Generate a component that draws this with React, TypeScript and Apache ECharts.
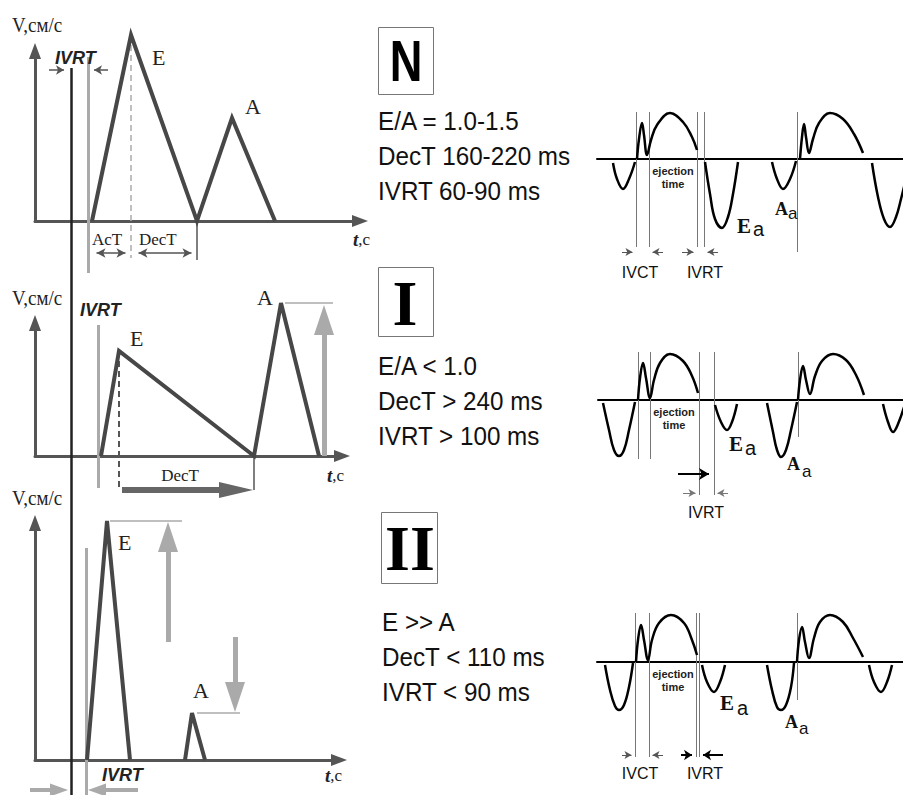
import React, { useEffect, useRef } from "react";
import * as echarts from "echarts";

const SERIF = "'Liberation Serif', 'DejaVu Serif', serif";
const SANS = "'Liberation Sans', Arial, sans-serif";

// ---------- Left column: transmitral flow (t, v), relative to each panel origin ----------
const normalWave = [[57, 0], [96, 186], [162, 0], [197, 103], [240, 0]];
const impairedWave = [[66, 0], [84, 105], [219, 0], [246, 153], [284, 0]];
const restrictiveEWave = [[52, 0], [72, 239], [95, 0]];
const restrictiveAWave = [[150, 0], [157, 47], [170, 0]];

// ---------- Right column: tissue Doppler segments (t, v) ----------
const tdiNormal = [
  [[16, -4], [20, -20], [26, -30], [32, -20], [38, -3]],
  [[40, 0], [42, 20], [45, 36], [47, 24], [50, 4], [54, 19], [60, 34], [73, 46], [86, 37], [95, 22], [100, 9]],
  [[108, -3], [113, -35], [118, -60], [125, -69], [131, -58], [136, -35], [141, -3]],
  [[175, -3], [180, -20], [186, -30], [193, -20], [199, -2]],
  [[203, 0], [205, 22], [207, 35], [209, 22], [212, 6], [216, 20], [222, 36], [233, 46], [246, 40], [257, 25], [266, 6]],
  [[275, -4], [281, -38], [287, -60], [293, -68], [299, -58], [304, -40], [310, -15]],
];
const tdiImpaired = [
  [[5, -3], [11, -30], [16, -50], [21, -56], [26, -50], [31, -30], [37, -2]],
  [[40, 0], [42, 22], [45, 37], [48, 22], [52, 2], [56, 20], [62, 37], [72, 46], [85, 39], [94, 24], [100, 7]],
  [[117, -5], [123, -22], [129, -30], [134, -22], [139, -4]],
  [[169, -3], [175, -32], [179, -50], [183, -57], [188, -50], [193, -30], [199, -2]],
  [[200, 0], [202, 20], [205, 34], [208, 20], [212, 6], [217, 24], [224, 39], [235, 46], [248, 40], [258, 25], [266, 5]],
  [[285, -4], [290, -22], [295, -32], [300, -24], [307, -4]],
];
const tdiRestrictive = [
  [[8, -3], [13, -28], [18, -44], [22, -48], [27, -43], [32, -25], [36, -1]],
  [[39, 0], [41, 22], [44, 37], [47, 22], [51, 2], [55, 22], [62, 39], [74, 47], [87, 39], [95, 22], [100, 7]],
  [[105, -3], [110, -20], [117, -30], [123, -20], [128, -3]],
  [[170, -3], [175, -28], [180, -45], [184, -48], [189, -43], [194, -25], [197, -1]],
  [[200, 0], [202, 22], [205, 35], [208, 20], [212, 4], [217, 24], [223, 40], [233, 47], [246, 40], [256, 24], [266, 5]],
  [[272, -3], [277, -20], [284, -30], [290, -20], [295, -3]],
];

// criteria texts
const normalCriteria = ["E/A = 1.0-1.5", "DecT 160-220 ms", "IVRT 60-90 ms"];
const impairedCriteria = ["E/A < 1.0", "DecT > 240 ms", "IVRT > 100 ms"];
const restrictiveCriteria = ["E >> A", "DecT < 110 ms", "IVRT < 90 ms"];

const leftGrids = [
  { left: 35, top: 51, width: 325, height: 170 },
  { left: 35, top: 323, width: 307, height: 133 },
  { left: 35, top: 523, width: 304, height: 237 },
];
const rightGrids = [
  { left: 597, top: 99, width: 306, height: 160 },
  { left: 598, top: 340, width: 305, height: 160 },
  { left: 597, top: 602, width: 306, height: 160 },
];

type P = number[];
function arr(from: P, tip: P, head: number): P[] {
  const dx = tip[0] - from[0], dy = tip[1] - from[1];
  const L = Math.hypot(dx, dy);
  return [from, [tip[0] - (dx / L) * head / 2, tip[1] - (dy / L) * head / 2]];
}
function arr2(a: P, b: P, head: number): P[] {
  const dx = b[0] - a[0], dy = b[1] - a[1];
  const L = Math.hypot(dx, dy);
  const ux = dx / L, uy = dy / L;
  return [[a[0] + ux * head / 2, a[1] + uy * head / 2], [b[0] - ux * head / 2, b[1] - uy * head / 2]];
}

function segs(grid: number, coords: P[][], color: string, width: number, opts: any = {}) {
  return {
    type: "lines",
    coordinateSystem: "cartesian2d",
    xAxisIndex: grid,
    yAxisIndex: grid,
    clip: false,
    silent: true,
    z: opts.z ?? 3,
    symbol: opts.symbol ?? "none",
    symbolSize: opts.symbolSize ?? 0,
    lineStyle: { color, width, opacity: 1, type: opts.dashed ? [6, 4] : "solid", curveness: 0 },
    data: coords.map((c) => ({ coords: c })),
  };
}

function txt(text: string, x: number, y: number, o: any = {}) {
  return {
    type: "text",
    x,
    y,
    scaleX: o.scaleX ?? 1,
    silent: true,
    z: 10,
    style: {
      text,
      fontFamily: o.family ?? SANS,
      fontSize: o.size ?? 16,
      fontWeight: o.weight ?? "normal",
      fontStyle: o.italic ? "italic" : "normal",
      fill: o.color ?? "#111",
      align: o.align ?? "left",
      verticalAlign: "middle",
      rich: o.rich,
    },
  };
}

function tcLabel(x: number, y: number) {
  return {
    type: "text",
    x,
    y,
    z: 10,
    style: {
      text: "{a|t}{b|,c}",
      verticalAlign: "middle",
      rich: {
        a: { fontFamily: SERIF, fontWeight: "bold", fontStyle: "italic", fontSize: 19, fill: "#222" },
        b: { fontFamily: SERIF, fontSize: 17, fill: "#222" },
      },
    },
  };
}

function buildOption() {
  const grid: any[] = [];
  const xAxis: any[] = [];
  const yAxis: any[] = [];
  const series: any[] = [];

  leftGrids.forEach((g, i) => {
    grid.push({ ...g });
    const axisLine = {
      show: true,
      onZero: true,
      symbol: ["none", "triangle"],
      symbolSize: [12, 16],
      lineStyle: { color: "#555", width: 3 },
    };
    xAxis.push({ gridIndex: i, type: "value", min: 0, max: g.width, axisLine, axisTick: { show: false }, axisLabel: { show: false }, splitLine: { show: false } });
    yAxis.push({ gridIndex: i, type: "value", min: 0, max: g.height, axisLine, axisTick: { show: false }, axisLabel: { show: false }, splitLine: { show: false } });
  });
  rightGrids.forEach((g, j) => {
    const i = j + 3;
    grid.push({ ...g });
    xAxis.push({ gridIndex: i, type: "value", min: 0, max: g.width, axisLine: { show: true, onZero: true, lineStyle: { color: "#000", width: 2 } }, axisTick: { show: false }, axisLabel: { show: false }, splitLine: { show: false } });
    yAxis.push({ gridIndex: i, type: "value", min: -100, max: 60, axisLine: { show: false }, axisTick: { show: false }, axisLabel: { show: false }, splitLine: { show: false } });
  });

  const wave = (grid: number, data: number[][]) => ({
    type: "line",
    xAxisIndex: grid,
    yAxisIndex: grid,
    data,
    symbol: "none",
    clip: false,
    z: 4,
    lineStyle: { color: "#474747", width: 4, join: "miter", cap: "butt" },
  });
  series.push(wave(0, normalWave), wave(1, impairedWave), wave(2, restrictiveEWave), wave(2, restrictiveAWave));

  const tdi = (grid: number, data: number[][]) => ({
    type: "line",
    xAxisIndex: grid,
    yAxisIndex: grid,
    data,
    symbol: "none",
    smooth: 0.4,
    clip: true,
    z: 4,
    lineStyle: { color: "#000", width: 2.5 },
  });
  tdiNormal.forEach((s) => series.push(tdi(3, s)));
  tdiImpaired.forEach((s) => series.push(tdi(4, s)));
  tdiRestrictive.forEach((s) => series.push(tdi(5, s)));

  const small = { symbol: ["none", "arrow"], symbolSize: [[7, 8], [7, 8]] };
  const smallBoth = { symbol: ["arrow", "arrow"], symbolSize: [[7, 9], [7, 9]] };

  // --- Left panel 1 annotations
  series.push(segs(0, [[[36, 153], [36, -574]]], "#222", 2.5));
  series.push(segs(0, [[[53, 164], [53, -52]]], "#aaa", 3));
  series.push(segs(0, [[[96, 186], [96, -37]]], "#aaa", 1.5, { dashed: true }));
  series.push(segs(0, [[[162, 0], [162, -39]]], "#555", 1.5));
  series.push(segs(0, [arr([14, 151], [33, 151], 8), arr([73, 151], [55, 151], 8)], "#555", 1.5, small));
  series.push(segs(0, [arr2([57, -32], [95, -32], 9), arr2([99, -32], [161, -32], 9)], "#555", 1.5, smallBoth));

  // --- Left panel 2 annotations
  series.push(segs(1, [[[63, 131], [63, -32]]], "#aaa", 3));
  series.push(segs(1, [[[84, 105], [84, -34]]], "#555", 2, { dashed: true }));
  series.push(segs(1, [[[219, 0], [219, -34]]], "#555", 1.5));
  series.push(segs(1, [arr([87, -34], [218, -34], 34)], "#666", 6, { symbol: ["none", "triangle"], symbolSize: [[16, 34], [16, 34]] }));
  series.push(segs(1, [[[250, 153], [298, 153]]], "#aaa", 1.5));
  series.push(segs(1, [arr([289, 0], [289, 151], 30)], "#aaa", 5, { symbol: ["none", "triangle"], symbolSize: [[20, 30], [20, 30]] }));

  // --- Left panel 3 annotations
  series.push(segs(2, [[[51, 212], [51, -35]]], "#aaa", 3));
  series.push(segs(2, [[[75, 239], [147, 239]], [[162, 47], [205, 47]]], "#aaa", 1.5));
  series.push(segs(2, [arr([133, 118], [133, 238], 30), arr([200, 123], [200, 48], 30)], "#aaa", 5, { symbol: ["none", "triangle"], symbolSize: [[20, 30], [20, 30]] }));
  series.push(segs(2, [arr([-5, -30], [33, -30], 18), arr([103, -30], [53, -30], 18)], "#aaa", 4, { symbol: ["none", "triangle"], symbolSize: [[13, 18], [13, 18]] }));

  // --- Right panels annotations
  const tiny = { symbol: ["none", "arrow"], symbolSize: [[6, 7], [6, 7]] };
  series.push(segs(3, [[[39, 47], [39, -88]], [[52, 47], [52, -88]], [[100, 47], [100, -88]], [[107, 47], [107, -88]], [[200, 47], [200, -93]]], "#777", 1));
  series.push(segs(3, [arr([25, -93], [39, -93], 7), arr([66, -93], [52, -93], 7), arr([85, -93], [100, -93], 7), arr([121, -93], [107, -93], 7)], "#555", 1, tiny));

  series.push(segs(4, [[[40, 48], [40, -59]], [[52, 48], [52, -59]], [[101, 48], [101, -95]], [[116, 48], [116, -95]], [[200, 48], [200, -37]]], "#777", 1));
  series.push(segs(4, [arr([80, -74], [116, -74], 10)], "#000", 2, { symbol: ["none", "arrow"], symbolSize: [[9, 10], [9, 10]] }));
  series.push(segs(4, [arr([85, -93], [101, -93], 7), arr([130, -93], [116, -93], 7)], "#777", 1, tiny));

  series.push(segs(5, [[[38, 49], [38, -95]], [[52, 49], [52, -95]], [[99, 49], [99, -95]], [[102, 49], [102, -95]], [[200, 49], [200, -38]]], "#777", 1));
  series.push(segs(5, [arr([25, -93], [38, -93], 7), arr([66, -93], [52, -93], 7)], "#555", 1, tiny));
  series.push(segs(5, [arr([84, -93], [99, -93], 8), arr([126, -93], [102, -93], 8)], "#000", 2, { symbol: ["none", "arrow"], symbolSize: [[8, 8], [8, 8]] }));

  // --- texts
  const g: any[] = [];
  const vLabel = (y: number) => txt("V,см/с", 12, y, { family: SERIF, size: 20, color: "#222", scaleX: 0.95 });
  const ivrtL = (x: number, y: number) => txt("IVRT", x, y, { size: 18, weight: "bold", italic: true, color: "#222" });
  const serifL = (s: string, x: number, y: number, size = 22) => txt(s, x, y, { family: SERIF, size, color: "#222" });

  g.push(vLabel(25), vLabel(298), vLabel(498));
  g.push(ivrtL(55, 58), ivrtL(80, 310), ivrtL(102, 775));
  g.push(serifL("E", 152, 57), serifL("A", 245, 106));
  g.push(serifL("E", 130, 338), serifL("A", 257, 297));
  g.push(serifL("E", 118, 542), serifL("A", 193, 690));
  g.push(serifL("AcT", 92, 239, 17), serifL("DecT", 139, 239, 17), txt("DecT", 180, 475, { family: SERIF, size: 17, color: "#222", align: "center" }));
  g.push(tcLabel(353, 239), tcLabel(327, 475), tcLabel(325, 775));

  // middle boxes
  g.push({ type: "rect", shape: { x: 378.5, y: 27.5, width: 55, height: 67 }, style: { fill: "#fff", stroke: "#777", lineWidth: 1 }, z: 9 });
  g.push(txt("N", 406, 61, { size: 58, weight: "bold", scaleX: 0.78, align: "center", color: "#000" }));
  g.push({ type: "rect", shape: { x: 378.5, y: 267.5, width: 55, height: 69 }, style: { fill: "#fff", stroke: "#777", lineWidth: 1 }, z: 9 });
  g.push(txt("I", 405, 303, { family: SERIF, size: 64, weight: "bold", align: "center", color: "#000" }));
  g.push({ type: "rect", shape: { x: 381.5, y: 512.5, width: 56, height: 71 }, style: { fill: "#fff", stroke: "#777", lineWidth: 1 }, z: 9 });
  g.push(txt("II", 410, 548, { family: SERIF, size: 64, weight: "bold", align: "center", color: "#000" }));

  const critY = [[121, 156, 191], [366, 401, 436], [622, 657, 692]];
  const critX = [378, 378, 382];
  [normalCriteria, impairedCriteria, restrictiveCriteria].forEach((lines, k) => {
    lines.forEach((s, m) => g.push(txt(s, critX[k], critY[k][m], { size: 25, color: "#111", scaleX: 0.97 })));
  });

  // right texts
  const ej = (x: number, y: number) => {
    g.push(txt("ejection", x, y, { size: 11, weight: "bold", align: "center", color: "#222" }));
    g.push(txt("time", x, y + 13, { size: 11, weight: "bold", align: "center", color: "#222" }));
  };
  ej(673, 171);
  ej(674, 412);
  ej(673, 674);
  const sub = (L: string, x: number, y: number, sx: number, sy: number, size: number) => {
    g.push(txt(L, x, y, { family: SERIF, size, weight: "bold", color: "#111" }));
    g.push(txt("a", sx, sy, { size: size - 1, color: "#111" }));
  };
  sub("E", 737, 226, 753, 229, 21);
  sub("A", 775, 209, 788, 213, 18);
  sub("E", 729, 444, 745, 448, 21);
  sub("A", 787, 464, 802, 471, 18);
  sub("E", 720, 703, 737, 708, 21);
  sub("A", 785, 722, 799, 728, 18);
  const lab = (s: string, x: number, y: number) => g.push(txt(s, x, y, { size: 16, align: "center", color: "#111" }));
  lab("IVCT", 640, 272);
  lab("IVRT", 705, 272);
  lab("IVRT", 706, 512);
  lab("IVCT", 640, 773);
  lab("IVRT", 705, 773);

  return {
    animation: false,
    backgroundColor: "#fff",
    grid,
    xAxis,
    yAxis,
    series,
    graphic: { elements: g },
  };
}

export default function App() {
  const ref = useRef<HTMLDivElement>(null);
  useEffect(() => {
    if (!ref.current) return;
    const chart = echarts.init(ref.current, undefined, { renderer: "svg" });
    chart.setOption(buildOption() as any);
    return () => chart.dispose();
  }, []);
  return <div ref={ref} style={{ position: "absolute", left: 0, top: 0, width: 903, height: 795, background: "#fff" }} />;
}
